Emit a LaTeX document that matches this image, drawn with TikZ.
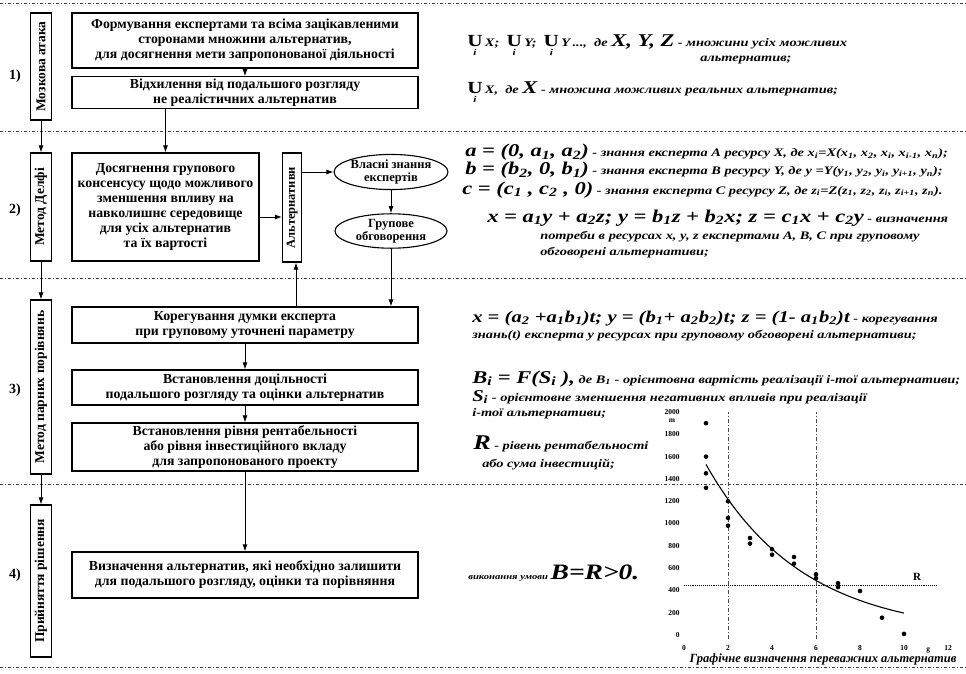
\documentclass[tikz,border=0pt]{standalone}
\usepackage{fontspec}
\setmainfont{Liberation Serif}
\usetikzlibrary{arrows.meta,shapes.geometric}
\newcommand\sbs[1]{\textsubscript{#1}}
\newcommand\Fm[1]{{\fontsize{18}{20}\selectfont #1}}
\newcommand\Fn[1]{{\fontsize{16.5}{18}\selectfont #1}}
\newcommand\Fr[1]{{\fontsize{21}{22}\selectfont #1}}
\newcommand\Un{$\mathop{\hbox{\fontsize{17}{18}\selectfont\bfseries\upshape U}}\limits_{\hbox{\fontsize{9}{9}\selectfont\bfseries\itshape i}}$}
\begin{document}
\begin{tikzpicture}[x=1pt,y=-1pt,
  sep/.style={line width=0.7pt, dash pattern=on 3pt off 2pt on 1pt off 2pt, black!75},
  arr/.style={line width=0.9pt, -{Latex[length=7pt,width=5pt]}},
  mainbox/.style={draw, line width=1.1pt, align=center, inner sep=2pt, minimum width=346pt, font=\fontsize{13.8}{15}\selectfont\bfseries},
  stagebox/.style={draw, line width=1.1pt, minimum width=21pt, inner sep=0pt, font=\fontsize{13.5}{15}\selectfont\bfseries},
  oval/.style={draw, ellipse, line width=1.1pt, minimum width=112pt, inner sep=0pt, align=center, font=\fontsize{12.5}{13.5}\selectfont\bfseries},
  num/.style={font=\fontsize{14}{16}\selectfont\bfseries},
  desc/.style={anchor=base west, inner sep=0pt, xscale=1.25, font=\fontsize{11.5}{13}\selectfont\bfseries\itshape},
  tick/.style={inner sep=1pt, font=\fontsize{7.5}{8}\selectfont\bfseries},
  grid/.style={line width=0.5pt, dash pattern=on 4pt off 2pt on 1pt off 2pt, black!70}
]
\useasboundingbox[fill=white] (0,0) rectangle (966,674);

% separators
\draw[sep] (0,3) -- (966,3);
\draw[sep] (0,131) -- (966,131);
\draw[sep] (0,278) -- (966,278);
\draw[sep] (0,484) -- (966,484);
\draw[sep] (0,667) -- (966,667);

% stage boxes
\node[stagebox, minimum height=107pt] (s1) at (41,66.5) {\rotatebox{90}{Мозкова атака}};
\node[stagebox, minimum height=108pt] (s2) at (41,207) {\rotatebox{90}{Метод Делфі}};
\node[stagebox, minimum height=174pt] (s3) at (41,387) {\rotatebox{90}{Метод парних порівнянь}};
\node[stagebox, minimum height=152pt] (s4) at (41,581) {\rotatebox{90}{Прийняття рішення}};
\draw[arr] (s1.south) -- (s2.north);
\draw[arr] (s2.south) -- (s3.north);
\draw[arr] (s3.south) -- (s4.north);

\node[num] (n1) at (15,76) {1)};
\node[num] (n2) at (15,210) {2)};
\node[num] (n3) at (15,390) {3)};
\node[num] (n4) at (15,575) {4)};

% main boxes
\node[mainbox, minimum height=55pt] (A) at (245,40.5) {Формування експертами та всіма зацікавленими\\сторонами множини альтернатив,\\для досягнення мети запропонованої діяльності};
\node[mainbox, minimum height=30pt] (B) at (245,92.5) {Відхилення від подальшого розгляду\\не реалістичних альтернатив};
\node[mainbox, minimum width=187pt, minimum height=108pt] (C) at (165.5,207) {Досягнення групового\\консенсусу щодо можливого\\зменшення впливу на\\навколишнє середовище\\для усіх альтернатив\\та їх вартості};
\node[stagebox, minimum width=19pt, minimum height=109pt, font=\fontsize{12.5}{13}\selectfont\bfseries] (Alt) at (292,207.5) {\rotatebox{90}{Альтернативи}};
\node[oval, minimum height=31pt] (E1) at (391,172) {Власні знання\\експертів};
\node[oval, minimum height=33pt] (E2) at (391,231) {Групове\\обговорення};
\node[mainbox, minimum height=36pt] (D) at (245,325) {Корегування думки експерта\\при груповому уточнені параметру};
\node[mainbox, minimum height=35pt] (E) at (245,387.5) {Встановлення доцільності\\подальшого розгляду та оцінки альтернатив};
\node[mainbox, minimum height=48pt] (F) at (245,447) {Встановлення рівня рентабельності\\або рівня інвестиційного вкладу\\для запропонованого проекту};
\node[mainbox, minimum height=46pt] (G) at (245,575) {Визначення альтернатив, які необхідно залишити\\для подальшого розгляду, оцінки та порівняння};

\draw[arr] (A.south) -- (B.north);
\draw[arr] (B.south -| C.north) -- (C.north);
\draw[arr] ([yshift=-10pt]C.east) -- ([yshift=-10pt]C.east -| Alt.west);
\draw[arr] (Alt.east |- E1.west) -- (E1.west);
\draw[arr] (E1.south) -- (E2.north);
\draw[arr] (E2.south) -- (E2.south |- D.north);
\draw[arr] ([xshift=4pt]D.north -| Alt.south) -- ([xshift=4pt]Alt.south);
\draw[arr] (D.south) -- (E.north);
\draw[arr] (E.south) -- (F.north);
\draw[arr] (F.south) -- (G.north);

% right-hand texts
\node[desc] (t1) at (467,47) {\Un\,X;\enspace\Un\,Y;\enspace\Un\,Y\,...,\enspace де \Fm{X, Y, Z} - множини усіх можливих};
\node[desc] (t1b) at (700,62) {альтернатив;};
\node[desc] (t2) at (467,94) {\Un\,X,\enspace де \Fm{X} - множина можливих реальних альтернатив;};

\node[desc] (La) at (465,157) {\Fm{a = (0,~a\sbs{1},~a\sbs{2})} - знання експерта A ресурсу X, де x\sbs{i}=X(x\sbs{1}, x\sbs{2}, x\sbs{i}, x\sbs{i-1}, x\sbs{n});};
\node[desc] (Lb) at (465,175) {\Fm{b = (b\sbs{2},~0,~b\sbs{1})} - знання експерта B ресурсу Y, де y =Y(y\sbs{1}, y\sbs{2}, y\sbs{i}, y\sbs{i+1}, y\sbs{n});};
\node[desc] (Lc) at (462,194) {\Fm{c = (c\sbs{1}~,~c\sbs{2}~,~0)} - знання експерта C ресурсу Z, де z\sbs{i}=Z(z\sbs{1}, z\sbs{2}, z\sbs{i}, z\sbs{i+1}, z\sbs{n}).};
\node[desc] (Lx) at (487,222) {\Fm{x = a\sbs{1}y + a\sbs{2}z; y = b\sbs{1}z + b\sbs{2}x; z = c\sbs{1}x + c\sbs{2}y} - визначення};
\node[desc] (Lx2) at (540,239) {потреби в ресурсах x, y, z експертами A, B, C при груповому};
\node[desc] (Lx3) at (540,255) {обговорені альтернативи;};

\node[desc] (Lt) at (472,322) {\Fn{x = (a\sbs{2} +a\sbs{1}b\sbs{1})t; y = (b\sbs{1}+ a\sbs{2}b\sbs{2})t; z = (1- a\sbs{1}b\sbs{2})t} - корегування};
\node[desc] (Lt2) at (472,338) {знань(t) експерта у ресурсах при груповому обговорені альтернативи;};
\node[desc] (LB) at (472,383) {\Fm{B\sbs{i}~= F(S\sbs{i}~),} де B\sbs{1} - орієнтовна вартість реалізації i-тої альтернативи;};
\node[desc] (LS) at (472,401) {\Fn{S\sbs{i}} - орієнтовне зменшення негативних впливів при реалізації};
\node[desc] (LS2) at (472,416) {i-тої альтернативи;};
\node[desc] (LR) at (473,449) {\Fr{R} - рівень рентабельності};
\node[desc] (LR2) at (482,467) {або сума інвестицій;};
\node[desc, font=\fontsize{8.5}{10}\selectfont\bfseries\itshape] (LC) at (468,579) {виконання умови \Fr{\fontsize{22}{24}\selectfont B=R>0.}};

% chart
\begin{scope}[shift={(684,635)}, x=22pt, y=0.1115pt]
  \draw[grid] (2,-40) -- (2,2000);
  \draw[grid] (6,-40) -- (6,2000);
  \draw[line width=1.1pt, densely dotted] (0,440) -- (11.5,440);
  \node[font=\fontsize{11}{12}\selectfont\bfseries] (Rl) at (10.6,520) {R};
  \draw[line width=1.1pt] plot[domain=1:10,samples=60,smooth] (\x,{1921*exp(-0.228*\x)});
  \foreach \p in {(1,1900),(1,1600),(1,1450),(1,1320),(2,1200),(2,1050),(2,980),(3,870),(3,820),(4,770),(4,720),(5,700),(5,640),(6,545),(6,510),(7,465),(7,430),(8,395),(9,155),(10,10)}
    \fill \p circle[radius=2.3pt];
  \foreach \v in {0,200,...,2000}
    \node[tick, anchor=east] (yl\v) at (-0.15,\v) {\v};
  \foreach \u in {0,2,...,12}
    \node[tick] (xl\u) at (\u,-120) {\u};
  \node[tick] (ml) at (-0.55,1925) {m};
  \node[tick] (gl) at (11.1,-140) {g};
\end{scope}
\node[font=\fontsize{12.5}{14}\selectfont\bfseries\itshape] (cap) at (823,659) {Графічне визначення переважних альтернатив};
\end{tikzpicture}
\end{document}
